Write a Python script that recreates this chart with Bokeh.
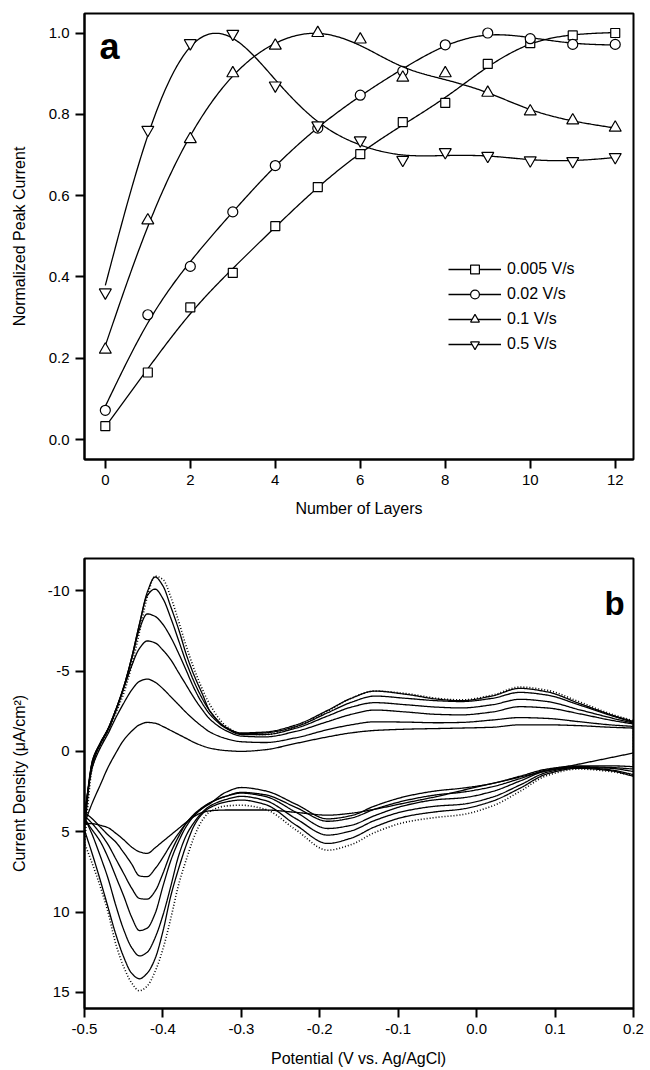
import numpy as np
from bokeh.plotting import figure
from bokeh.models import Range1d, FixedTicker, PrintfTickFormatter, Label
from bokeh.layouts import column
from bokeh.embed import file_html
from bokeh.resources import INLINE

FONT = "Liberation Sans"

# ---------------- panel a data ----------------
layers = [0, 1, 2, 3, 4, 5, 6, 7, 8, 9, 10, 11, 12]
peak_0005 = [0.033, 0.165, 0.325, 0.41, 0.525, 0.621, 0.702, 0.781, 0.828, 0.924, 0.975, 0.994, 1.0]
peak_002 = [0.072, 0.307, 0.426, 0.56, 0.674, 0.766, 0.847, 0.906, 0.971, 1.0, 0.986, 0.972, 0.972]
peak_01 = [0.221, 0.539, 0.739, 0.901, 0.969, 1.0, 0.984, 0.89, 0.901, 0.853, 0.807, 0.785, 0.767]
peak_05 = [0.362, 0.762, 0.975, 0.998, 0.871, 0.773, 0.736, 0.688, 0.707, 0.698, 0.687, 0.685, 0.695]
scan_labels = ["0.005 V/s", "0.02 V/s", "0.1 V/s", "0.5 V/s"]
scan_markers = ["square", "circle", "triangle", "inverted_triangle"]

# ---------------- panel b data ----------------
potential = [-0.50, -0.49, -0.48, -0.47, -0.46, -0.45, -0.44, -0.43, -0.42, -0.41, -0.40,
             -0.39, -0.38, -0.37, -0.36, -0.35, -0.34, -0.32, -0.30, -0.27, -0.23, -0.19,
             -0.16, -0.13, -0.09, -0.05, -0.02, 0.02, 0.055, 0.09, 0.13, 0.17, 0.20]

cv_upper_1 = [4.48, 3.2, 2.1, 1.0, 0.1, -0.7, -1.25, -1.65, -1.8, -1.75, -1.55, -1.3, -1.05, -0.8, -0.55, -0.35, -0.2,
              -0.05, 0.0, -0.1, -0.5, -0.9, -1.15, -1.3, -1.38, -1.42, -1.45, -1.5, -1.65, -1.65, -1.6, -1.5, -1.45]
cv_upper_2 = [3.8, 1.0, -0.2, -1.1, -2.1, -3.0, -3.8, -4.35, -4.5, -4.3, -3.9, -3.4, -2.9, -2.4, -1.95, -1.55, -1.2,
              -0.8, -0.6, -0.55, -0.85, -1.35, -1.65, -1.84, -1.82, -1.78, -1.8, -1.95, -2.1, -2.05, -1.85, -1.65, -1.55]
cv_upper_3 = [4.0, 0.8, -0.4, -1.3, -2.5, -3.9, -5.3, -6.4, -6.87, -6.75, -6.3, -5.7, -4.9, -4.1, -3.3, -2.6, -2.0,
              -1.3, -0.95, -0.9, -1.25, -1.85, -2.3, -2.57, -2.45, -2.3, -2.27, -2.45, -2.78, -2.7, -2.35, -1.95, -1.7]
cv_upper_4 = [4.2, 0.7, -0.5, -1.4, -2.6, -4.0, -5.7, -7.6, -8.55, -8.4, -7.9, -7.1, -6.1, -5.0, -3.9, -3.0, -2.3,
              -1.45, -1.05, -1.05, -1.45, -2.2, -2.75, -3.03, -2.9, -2.75, -2.7, -2.9, -3.24, -3.1, -2.6, -2.1, -1.75]
cv_upper_5 = [4.1, 0.6, -0.5, -1.4, -2.6, -4.0, -5.8, -7.9, -9.7, -10.1, -9.5, -8.3, -6.9, -5.5, -4.3, -3.3, -2.5,
              -1.5, -1.1, -1.15, -1.55, -2.4, -3.05, -3.44, -3.3, -3.15, -3.1, -3.3, -3.67, -3.5, -2.9, -2.25, -1.8]
cv_upper_6 = [4.9, 0.6, -0.5, -1.4, -2.6, -4.0, -5.8, -7.9, -9.9, -10.85, -10.3, -9.0, -7.6, -6.0, -4.7, -3.6, -2.5,
              -1.5, -1.15, -1.2, -1.65, -2.55, -3.3, -3.75, -3.55, -3.25, -3.15, -3.45, -3.92, -3.7, -3.0, -2.3, -1.85]
cv_upper_7 = [5.7, 1.0, -0.3, -1.2, -2.4, -3.6, -5.3, -7.4, -9.6, -10.9, -10.7, -9.6, -8.1, -6.5, -5.1, -3.9, -2.9,
              -1.6, -1.1, -1.05, -1.55, -2.5, -3.3, -3.75, -3.6, -3.3, -3.2, -3.5, -4.0, -3.8, -3.1, -2.35, -1.9]

cv_lower_1 = [4.48, 4.5, 4.6, 4.75, 5.1, 5.5, 5.95, 6.25, 6.35, 6.0, 5.6, 5.2, 4.8, 4.4, 4.05, 3.8, 3.7,
              3.65, 3.65, 3.65, 3.8, 3.97, 3.85, 3.6, 3.2, 2.8, 2.45, 2.0, 1.6, 1.2, 0.8, 0.4, 0.1]
cv_lower_2 = [3.8, 4.2, 4.7, 5.2, 5.65, 6.3, 7.0, 7.75, 7.8, 7.3, 6.6, 5.8, 5.1, 4.45, 3.95, 3.55, 3.25,
              2.55, 2.25, 2.45, 3.3, 4.2, 4.0, 3.4, 2.8, 2.45, 2.3, 2.0, 1.55, 1.1, 0.9, 0.9, 0.95]
cv_lower_3 = [4.0, 4.5, 5.1, 5.8, 6.7, 7.6, 8.5, 9.15, 9.2, 8.7, 7.6, 6.3, 5.3, 4.45, 3.9, 3.5, 3.2,
              2.8, 2.55, 2.7, 3.5, 4.35, 4.15, 3.6, 3.05, 2.7, 2.55, 2.2, 1.7, 1.15, 0.95, 1.0, 1.1]
cv_lower_4 = [4.2, 4.9, 5.6, 6.6, 7.8, 9.0, 10.3, 11.15, 11.0, 10.1, 8.4, 6.8, 5.6, 4.65, 4.0, 3.55, 3.2,
              2.8, 2.6, 2.8, 3.8, 4.8, 4.6, 4.0, 3.35, 3.0, 2.9, 2.5, 1.85, 1.2, 1.0, 1.05, 1.25]
cv_lower_5 = [4.1, 5.2, 6.5, 7.9, 9.6, 11.1, 12.2, 12.73, 12.5, 11.6, 10.2, 8.4, 6.5, 5.2, 4.4, 3.8, 3.4,
              3.0, 2.8, 3.05, 4.2, 5.21, 4.95, 4.3, 3.7, 3.4, 3.3, 2.85, 2.1, 1.3, 1.0, 1.15, 1.45]
cv_lower_6 = [4.9, 6.4, 8.0, 9.7, 11.4, 12.8, 13.8, 14.15, 13.8, 12.9, 11.2, 9.0, 7.3, 5.8, 4.6, 3.9, 3.5,
              3.15, 3.03, 3.3, 4.6, 5.73, 5.4, 4.7, 4.05, 3.75, 3.6, 3.1, 2.3, 1.4, 1.05, 1.2, 1.55]
cv_lower_7 = [5.7, 7.0, 8.4, 10.0, 12.0, 13.4, 14.4, 14.9, 14.6, 13.7, 12.3, 10.4, 8.3, 6.7, 5.3, 4.3, 3.75,
              3.4, 3.35, 3.6, 4.9, 6.15, 5.8, 5.05, 4.4, 4.1, 3.95, 3.4, 2.5, 1.5, 1.1, 1.25, 1.5]

cv_dashes = ["solid", "solid", "solid", "solid", "solid", "solid", "1 2"]


# ---------------- curve rendering helpers ----------------
def natural_spline(xk, yk, n=400):
    x = np.asarray(xk, float)
    y = np.asarray(yk, float)
    N = len(x)
    h = np.diff(x)
    A = np.zeros((N, N))
    r = np.zeros(N)
    A[0, 0] = A[-1, -1] = 1.0
    for i in range(1, N - 1):
        A[i, i - 1] = h[i - 1]
        A[i, i] = 2 * (h[i - 1] + h[i])
        A[i, i + 1] = h[i]
        r[i] = 3 * ((y[i + 1] - y[i]) / h[i] - (y[i] - y[i - 1]) / h[i - 1])
    c = np.linalg.solve(A, r)
    b = (y[1:] - y[:-1]) / h - h * (2 * c[:-1] + c[1:]) / 3
    d = (c[1:] - c[:-1]) / (3 * h)
    xs = np.linspace(x[0], x[-1], n)
    i = np.clip(np.searchsorted(x, xs, side="right") - 1, 0, N - 2)
    dx = xs - x[i]
    return xs, y[i] + b[i] * dx + c[i] * dx ** 2 + d[i] * dx ** 3


def smoothing_spline(xk, yk, alpha, n=400):
    # Reinsch cubic smoothing spline (like the curve fit drawn in the original figure)
    x = np.asarray(xk, float)
    y = np.asarray(yk, float)
    N = len(x)
    h = np.diff(x)
    Q = np.zeros((N, N - 2))
    R = np.zeros((N - 2, N - 2))
    for j in range(1, N - 1):
        Q[j - 1, j - 1] = 1 / h[j - 1]
        Q[j, j - 1] = -1 / h[j - 1] - 1 / h[j]
        Q[j + 1, j - 1] = 1 / h[j]
        R[j - 1, j - 1] = (h[j - 1] + h[j]) / 3
        if j < N - 2:
            R[j - 1, j] = R[j, j - 1] = h[j] / 3
    gamma = np.linalg.solve(R + alpha * Q.T @ Q, Q.T @ y)
    g = y - alpha * Q @ gamma
    return natural_spline(x, g, n)


def pchip(xk, yk, n=500):
    x = np.asarray(xk, float)
    y = np.asarray(yk, float)
    h = np.diff(x)
    delta = np.diff(y) / h
    m = np.zeros_like(y)
    for k in range(1, len(x) - 1):
        if delta[k - 1] * delta[k] > 0:
            w1 = 2 * h[k] + h[k - 1]
            w2 = h[k] + 2 * h[k - 1]
            m[k] = (w1 + w2) / (w1 / delta[k - 1] + w2 / delta[k])
    m[0] = delta[0]
    m[-1] = delta[-1]
    xs = np.linspace(x[0], x[-1], n)
    i = np.clip(np.searchsorted(x, xs, side="right") - 1, 0, len(x) - 2)
    t = (xs - x[i]) / h[i]
    h00 = 2 * t ** 3 - 3 * t ** 2 + 1
    h10 = t ** 3 - 2 * t ** 2 + t
    h01 = -2 * t ** 3 + 3 * t ** 2
    h11 = t ** 3 - t ** 2
    ys = h00 * y[i] + h10 * h[i] * m[i] + h01 * y[i + 1] + h11 * h[i] * m[i + 1]
    return xs, ys


def style_axes(p, label_standoff_x, label_standoff_y):
    p.outline_line_color = "black"
    p.outline_line_width = 2
    p.xgrid.visible = False
    p.ygrid.visible = False
    for ax in (p.xaxis[0], p.yaxis[0]):
        ax.axis_line_width = 2
        ax.axis_line_color = "black"
        ax.major_tick_line_width = 2
        ax.major_tick_line_color = "black"
        ax.major_tick_out = 9
        ax.major_tick_in = 0
        ax.minor_tick_line_color = None
        ax.major_label_text_font = FONT
        ax.major_label_text_font_size = "15px"
        ax.major_label_text_color = "black"
        ax.axis_label_text_font = FONT
        ax.axis_label_text_font_size = "16px"
        ax.axis_label_text_font_style = "normal"
        ax.axis_label_text_color = "black"
        ax.major_label_standoff = 6
    p.xaxis[0].axis_label_standoff = label_standoff_x
    p.yaxis[0].axis_label_standoff = label_standoff_y


# ---------------- panel a ----------------
p1 = figure(width=650, height=540, output_backend="svg", toolbar_location=None,
            x_range=Range1d(-0.49, 12.43), y_range=Range1d(-0.049, 1.048),
            min_border_left=81, min_border_right=17, min_border_top=13, min_border_bottom=81,
            x_axis_label="Number of Layers", y_axis_label="Normalized Peak Current")
style_axes(p1, 12, 18)
p1.xaxis[0].ticker = FixedTicker(ticks=[0, 2, 4, 6, 8, 10, 12])
p1.xaxis[0].formatter = PrintfTickFormatter(format="%d")
p1.yaxis[0].ticker = FixedTicker(ticks=[0.0, 0.2, 0.4, 0.6, 0.8, 1.0])
p1.yaxis[0].formatter = PrintfTickFormatter(format="%.1f")

marker_sizes = {"square": 9, "circle": 10, "triangle": 12, "inverted_triangle": 12}
for vals, lab, mk in zip([peak_0005, peak_002, peak_01, peak_05], scan_labels, scan_markers):
    xs, ys = smoothing_spline(layers, vals, 0.12)
    p1.line(xs, ys, line_color="black", line_width=1.3, legend_label=lab)
    p1.scatter(layers, vals, marker=mk, size=marker_sizes[mk], fill_color="white",
               line_color="black", line_width=1.2, legend_label=lab)

lg = p1.legend[0]
lg.location = (364, 104)
lg.border_line_color = None
lg.background_fill_alpha = 0
lg.padding = 0
lg.margin = 0
lg.glyph_width = 53
lg.glyph_height = 22
lg.label_height = 22
lg.spacing = 3
lg.label_standoff = 6
lg.label_text_font = FONT
lg.label_text_font_size = "16px"
lg.label_text_color = "black"

p1.add_layout(Label(x=15, y=413, x_units="screen", y_units="screen", text="a",
                    text_font=FONT, text_font_size="36px", text_font_style="bold",
                    text_color="black", text_baseline="alphabetic"))

# ---------------- panel b ----------------
p2 = figure(width=650, height=530, output_backend="svg", toolbar_location=None,
            x_range=Range1d(-0.5, 0.2), y_range=Range1d(16, -12),
            min_border_left=84, min_border_right=11, min_border_top=18, min_border_bottom=62,
            x_axis_label="Potential (V vs. Ag/AgCl)", y_axis_label="Current Density (\u03bcA/cm\u00b2)")
style_axes(p2, 13, 17)
p2.xaxis[0].ticker = FixedTicker(ticks=[-0.5, -0.4, -0.3, -0.2, -0.1, 0.0, 0.1, 0.2])
p2.xaxis[0].formatter = PrintfTickFormatter(format="%.1f")
p2.yaxis[0].ticker = FixedTicker(ticks=[-10, -5, 0, 5, 10, 15])
p2.yaxis[0].formatter = PrintfTickFormatter(format="%d")

uppers = [cv_upper_1, cv_upper_2, cv_upper_3, cv_upper_4, cv_upper_5, cv_upper_6, cv_upper_7]
lowers = [cv_lower_1, cv_lower_2, cv_lower_3, cv_lower_4, cv_lower_5, cv_lower_6, cv_lower_7]
for up, lo, dash in zip(uppers, lowers, cv_dashes):
    xu, yu = pchip(potential, up)
    xl, yl = pchip(potential, lo)
    xx = np.concatenate([xu, xl[::-1]])
    yy = np.concatenate([yu, yl[::-1]])
    p2.line(xx, yy, line_color="black", line_width=1.3 if dash == "solid" else 1.6,
            line_dash=dash)

p2.add_layout(Label(x=520, y=405, x_units="screen", y_units="screen", text="b",
                    text_font=FONT, text_font_size="33px", text_font_style="bold",
                    text_color="black", text_baseline="alphabetic"))

layout = column(p1, p2)
open("out.html", "w").write(file_html(layout, INLINE))
